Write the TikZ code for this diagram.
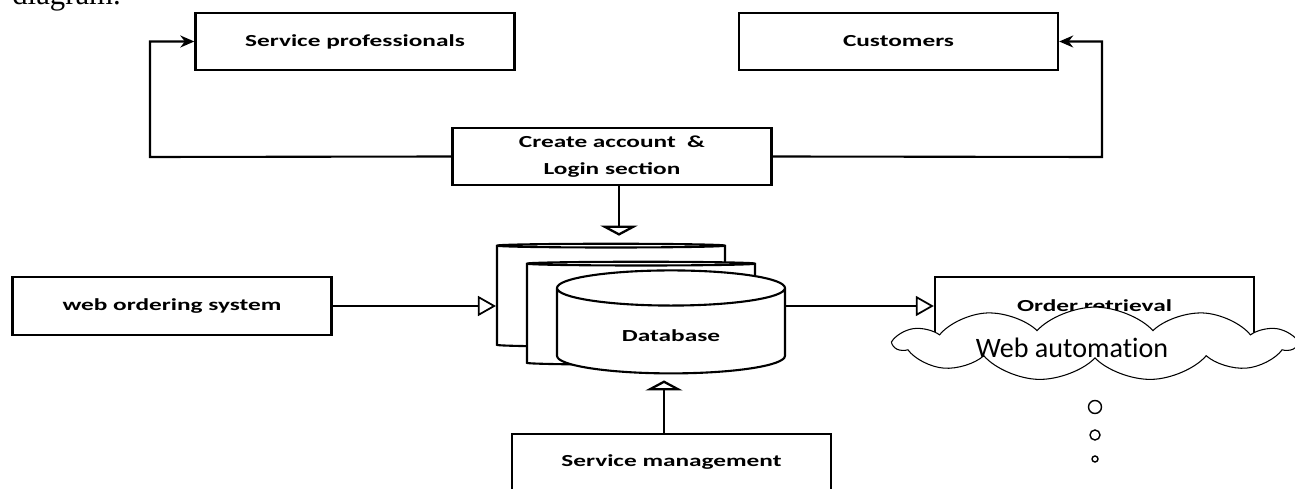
\documentclass[tikz,border=0pt]{standalone}
\usepackage{fontspec}
\newfontfamily\boxfont[FakeStretch=1.5]{Carlito}
\newfontfamily\cloudfont[Ligatures=NoCommon]{Carlito}
\newfontfamily\headfont{Liberation Serif}
\usetikzlibrary{arrows.meta, shapes.geometric, shapes.symbols}

\begin{document}
\begin{tikzpicture}[x=0.02cm,y=-0.02cm,
    box/.style={rectangle,draw,line width=1.4pt,minimum width=6.38cm,minimum height=1.14cm,
      font=\boxfont\bfseries\fontsize{9.6}{15.5}\selectfont,align=center},
    db/.style={cylinder,shape border rotate=90,draw,fill=white,line width=1.2pt,
      minimum width=4.56cm,minimum height=2.06cm,aspect=0.32,
      font=\boxfont\bfseries\fontsize{9.6}{11}\selectfont},
    feed/.style={line width=1pt,-{Triangle[open,width=0.4cm,length=0.36cm]}},
    feedv/.style={line width=1.3pt,-{Triangle[open,width=0.74cm,length=0.2cm]}},
    loopline/.style={line width=1.2pt,-{Stealth[length=0.28cm,width=0.24cm]}},
    bubble/.style={circle,draw,line width=0.8pt,inner sep=0pt}]
  \useasboundingbox (0,0) rectangle (1295,489);
  \node[anchor=base west,inner sep=0pt,font=\headfont\fontsize{17.5}{20}\selectfont] (head) at (12,5) {diagram.};
  % boxes
  \node at (355,41.5) [box] (sp) {Service professionals};
  \node at (898.5,41.5) [box] (cu) {Customers};
  \node at (612,156.5) [box] (create) {Create account \ \&\\Login section};
  \node at (172,306) [box,minimum height=1.16cm] (web) {web ordering system};
  \node at (1094.5,306) [box,minimum height=1.16cm] (order) {Order retrieval};
  \node at (671.5,462.5) [box] (sm) {Service management};
  % database stack
  \node at (611,297) [db] (db1) {};
  \node at (641,315) [db] (db2) {};
  \node at (671,334) [db] (db3) {\raisebox{-0.3cm}{Database}};
  % connectors
  \coordinate (lbend) at (150,157);
  \coordinate (rbend) at (1102,157);
  \coordinate (cdown) at ([xshift=0.14cm]create.south);
  \coordinate (mup) at ([xshift=-0.15cm]sm.north);
  \draw[loopline] (create.west) -- (lbend) |- (sp.west);
  \draw[loopline] (create.east) -- (rbend) |- (cu.east);
  \draw[feedv,shorten >=0.14cm] (cdown) -- (cdown |- db1.north);
  \draw[feed] (web.east) -- (web.east -| db1.west);
  \draw[feed] (db3.east |- order.west) -- (order.west);
  \draw[feedv,shorten >=0.12cm] (mup) -- (mup |- db3.south);
  % cloud
  \begin{scope}[shift={(1095,344)},yscale=0.78]
    \node at (0,0) [cloud,cloud puffs=11,cloud puff arc=110,aspect=5.3,draw,fill=white,
      line width=0.6pt,minimum width=8cm,minimum height=1.4cm,transform shape,
      font=\cloudfont\fontsize{16}{19}\selectfont] (auto) {\phantom{Web automation}};
  \end{scope}
  \node at (1072,348) [font=\cloudfont\fontsize{16}{19}\selectfont] (autotext) {Web automation};
  \foreach \yy/\dd [count=\i] in {407/0.26,435/0.2,459/0.12}
    \node at (1095,\yy) [bubble,minimum size=\dd cm] (bub\i) {};
\end{tikzpicture}
\end{document}
